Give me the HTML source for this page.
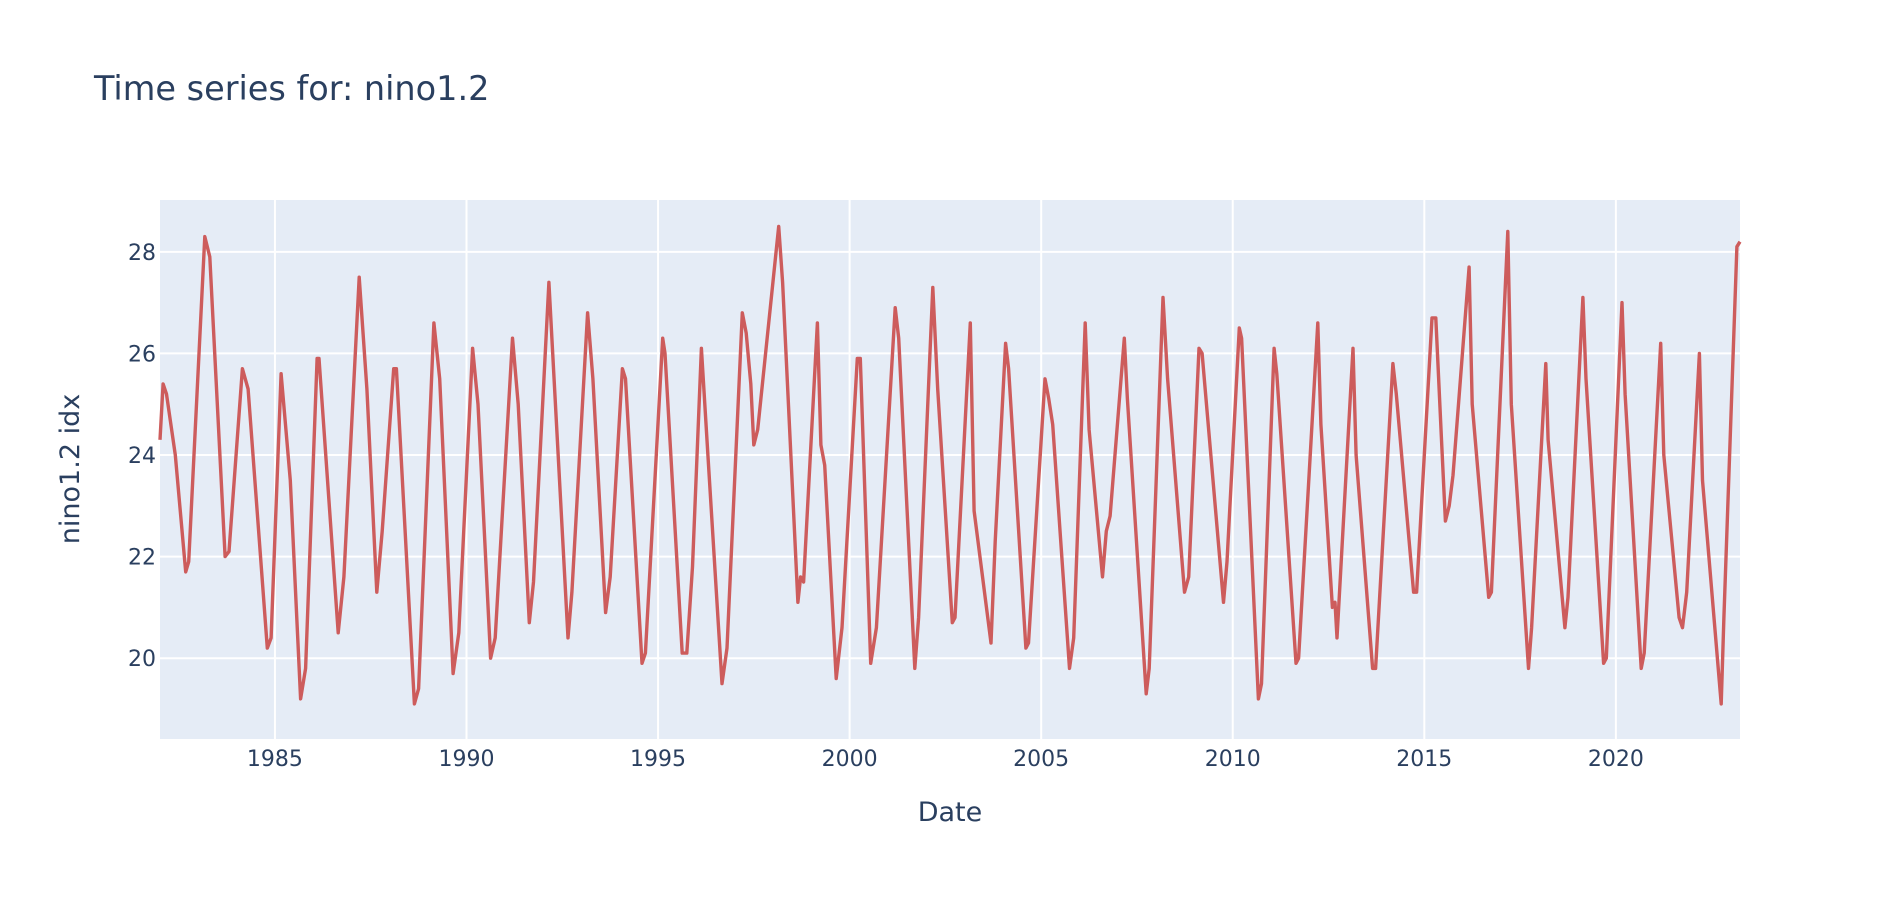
<!DOCTYPE html>
<html><head><meta charset="utf-8"><style>
body{margin:0;background:#fff;font-family:"DejaVu Sans","Liberation Sans",sans-serif}
svg text{font-family:"DejaVu Sans","Liberation Sans",sans-serif;fill:#2a3f5f}
</style></head><body>
<svg id="chart" width="1899" height="900" viewBox="0 0 1899 900">
<text x="94" y="100" font-size="33.5">Time series for: nino1.2</text>
<rect x="160" y="200" width="1580" height="539" fill="#e5ecf6"/>
<g id="grid"></g>
<g id="ticks"></g>
<path id="line" fill="none" stroke="#cd5c5c" stroke-width="3.4" stroke-linejoin="round"/>
<text x="950" y="821" font-size="27" text-anchor="middle">Date</text>
<text transform="translate(79,469) rotate(-90)" font-size="27" text-anchor="middle">nino1.2 idx</text>
</svg>
<script>
const dates=[1982.0,1982.08,1982.17,1982.4,1982.67,1982.75,1983.17,1983.3,1983.7,1983.8,1984.15,1984.3,1984.8,1984.9,1985.16,1985.4,1985.67,1985.8,1986.1,1986.15,1986.65,1986.8,1987.2,1987.4,1987.66,1987.8,1988.1,1988.17,1988.64,1988.75,1989.15,1989.3,1989.65,1989.8,1990.16,1990.3,1990.63,1990.75,1991.2,1991.35,1991.64,1991.75,1992.15,1992.25,1992.65,1992.75,1993.16,1993.3,1993.63,1993.75,1994.07,1994.15,1994.58,1994.67,1995.12,1995.18,1995.63,1995.75,1995.9,1996.13,1996.3,1996.67,1996.8,1997.2,1997.3,1997.42,1997.5,1997.6,1998.15,1998.25,1998.65,1998.72,1998.8,1999.16,1999.25,1999.35,1999.65,1999.8,2000.2,2000.28,2000.55,2000.7,2001.19,2001.28,2001.7,2001.8,2002.17,2002.3,2002.68,2002.75,2003.15,2003.25,2003.69,2003.8,2004.07,2004.15,2004.6,2004.67,2005.1,2005.2,2005.3,2005.74,2005.85,2006.15,2006.25,2006.6,2006.7,2006.8,2007.17,2007.25,2007.74,2007.82,2008.18,2008.3,2008.74,2008.85,2009.12,2009.2,2009.76,2009.85,2010.17,2010.23,2010.67,2010.75,2011.08,2011.15,2011.65,2011.72,2012.22,2012.3,2012.6,2012.67,2012.72,2013.14,2013.22,2013.65,2013.73,2014.18,2014.27,2014.72,2014.8,2015.2,2015.3,2015.45,2015.55,2015.65,2015.75,2016.17,2016.25,2016.68,2016.75,2017.18,2017.27,2017.72,2017.8,2018.17,2018.23,2018.67,2018.75,2019.14,2019.22,2019.68,2019.75,2020.16,2020.24,2020.66,2020.74,2021.17,2021.25,2021.65,2021.74,2021.85,2022.18,2022.26,2022.75,2022.82,2023.16,2023.24];
const values=[24.3,25.4,25.2,24.0,21.7,21.9,28.3,27.9,22.0,22.1,25.7,25.3,20.2,20.4,25.6,23.5,19.2,19.8,25.9,25.9,20.5,21.6,27.5,25.3,21.3,22.5,25.7,25.7,19.1,19.4,26.6,25.5,19.7,20.5,26.1,25.0,20.0,20.4,26.3,25.0,20.7,21.5,27.4,26.0,20.4,21.3,26.8,25.5,20.9,21.6,25.7,25.5,19.9,20.1,26.3,26.0,20.1,20.1,21.8,26.1,24.0,19.5,20.2,26.8,26.4,25.4,24.2,24.5,28.5,27.4,21.1,21.6,21.5,26.6,24.2,23.8,19.6,20.6,25.9,25.9,19.9,20.6,26.9,26.3,19.8,20.8,27.3,25.3,20.7,20.8,26.6,22.9,20.3,22.3,26.2,25.7,20.2,20.3,25.5,25.1,24.6,19.8,20.4,26.6,24.5,21.6,22.5,22.8,26.3,25.1,19.3,19.8,27.1,25.5,21.3,21.6,26.1,26.0,21.1,21.9,26.5,26.3,19.2,19.5,26.1,25.6,19.9,20.0,26.6,24.6,21.0,21.1,20.4,26.1,24.0,19.8,19.8,25.8,25.2,21.3,21.3,26.7,26.7,24.3,22.7,23.0,23.6,27.7,25.0,21.2,21.3,28.4,25.0,19.8,20.6,25.8,24.3,20.6,21.2,27.1,25.5,19.9,20.0,27.0,25.2,19.8,20.1,26.2,24.0,20.8,20.6,21.3,26.0,23.5,19.1,20.8,28.1,28.2];
const xTicks=[1985,1990,1995,2000,2005,2010,2015,2020];
const yTicks=[20,22,24,26,28];
const X0=160,X1=1740,Y0=739,Y1=200,D0=1982.0,D1=2023.24,V0=18.41,V1=29.02;
const xs=d=>X0+(d-D0)/(D1-D0)*(X1-X0);
const ys=v=>Y0-(v-V0)/(V1-V0)*(Y0-Y1);
const NS="http://www.w3.org/2000/svg";
const grid=document.getElementById('grid'),ticks=document.getElementById('ticks');
xTicks.forEach(t=>{
 const l=document.createElementNS(NS,'line');
 
 
 l.setAttribute('x1',xs(t));l.setAttribute('x2',xs(t));l.setAttribute('y1',Y1);l.setAttribute('y2',Y0);
 l.setAttribute('stroke','#fff');l.setAttribute('stroke-width','2');grid.appendChild(l);
 const tx=document.createElementNS(NS,'text');
 
 
 tx.setAttribute('x',xs(t));tx.setAttribute('y',766);tx.setAttribute('font-size','22');tx.setAttribute('text-anchor','middle');
 tx.textContent=t;ticks.appendChild(tx);
});
yTicks.forEach(t=>{
 const l=document.createElementNS(NS,'line');
 
 
 l.setAttribute('x1',X0);l.setAttribute('x2',X1);l.setAttribute('y1',ys(t));l.setAttribute('y2',ys(t));
 l.setAttribute('stroke','#fff');l.setAttribute('stroke-width','2');grid.appendChild(l);
 const tx=document.createElementNS(NS,'text');
 
 
 tx.setAttribute('x',156);tx.setAttribute('y',ys(t)+8);tx.setAttribute('font-size','22');tx.setAttribute('text-anchor','end');
 tx.textContent=t;ticks.appendChild(tx);
});
document.getElementById('line').setAttribute('d',dates.map((d,i)=>(i?'L':'M')+xs(d).toFixed(1)+','+ys(values[i]).toFixed(1)).join(''));
</script>
</body></html>
